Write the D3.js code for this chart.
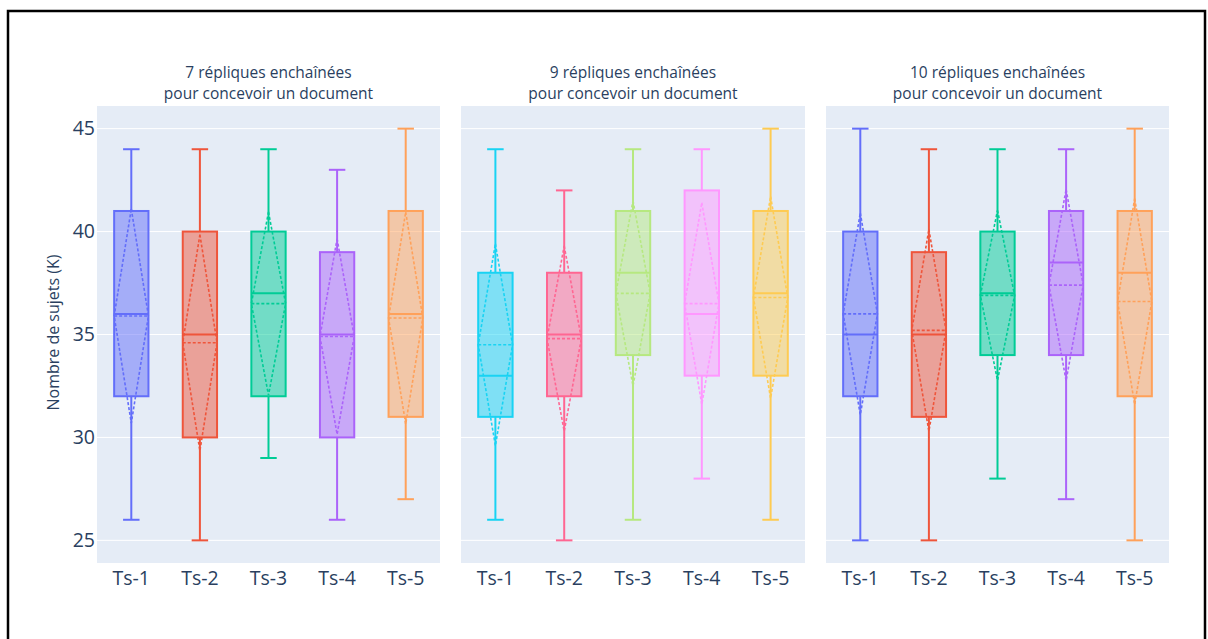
<!DOCTYPE html>
<html>
<head>
<meta charset="utf-8">
<script src="https://cdn.jsdelivr.net/npm/d3@7"></script>
<style>
  html, body { margin: 0; padding: 0; background: #fff; }
  svg { display: block; }
</style>
</head>
<body>
<svg id="chart" width="1208" height="639"></svg>
<script>
// Categories and panel titles
const categories = ["Ts-1", "Ts-2", "Ts-3", "Ts-4", "Ts-5"];
const panelTitles = [
  ["7 répliques enchaînées", "pour concevoir un document"],
  ["9 répliques enchaînées", "pour concevoir un document"],
  ["10 répliques enchaînées", "pour concevoir un document"]
];
const yTicks = [25, 30, 35, 40, 45];

// Box statistics, one row per panel, one value per category
const minima  = [[26, 25, 29, 26, 27], [26, 25, 26, 28, 26], [25, 25, 28, 27, 25]];
const q1s     = [[32, 30, 32, 30, 31], [31, 32, 34, 33, 33], [32, 31, 34, 34, 32]];
const medians = [[36, 35, 37, 35, 36], [33, 35, 38, 36, 37], [35, 35, 37, 38.5, 38]];
const q3s     = [[41, 40, 40, 39, 41], [38, 38, 41, 42, 41], [40, 39, 40, 41, 41]];
const maxima  = [[44, 44, 44, 43, 45], [44, 42, 44, 44, 45], [45, 44, 44, 44, 45]];
const means   = [[35.9, 34.6, 36.5, 34.9, 35.8], [34.5, 34.8, 37.0, 36.5, 36.8], [36.0, 35.2, 36.9, 37.4, 36.6]];
const sds     = [[5.2, 5.25, 4.45, 4.75, 5.15], [4.9, 4.5, 4.5, 4.9, 4.9], [4.9, 4.9, 4.13, 4.65, 5.0]];

const colors = [
  ["#636efa", "#EF553B", "#00cc96", "#ab63fa", "#FFA15A"],
  ["#19d3f3", "#FF6692", "#B6E880", "#FF97FF", "#FECB52"],
  ["#636efa", "#EF553B", "#00cc96", "#ab63fa", "#FFA15A"]
];

const svg = d3.select("#chart");
const font = "'Open Sans', 'Noto Sans', sans-serif";
const textColor = "#2a3f5f";

// Panel layout
const plotTop = 106, plotBottom = 563;
const panelX = [[97, 440], [461, 805], [826, 1169]];

const y = d3.scaleLinear().domain([23.9, 46.1]).range([plotBottom, plotTop]);

// Frame around the figure
svg.append("rect")
  .attr("x", 8).attr("y", 11)
  .attr("width", 1197).attr("height", 640)
  .attr("fill", "none").attr("stroke", "#000").attr("stroke-width", 2.5);

panelX.forEach((px, p) => {
  const x = d3.scaleBand().domain(categories).range(px).paddingInner(0).paddingOuter(0);
  const g = svg.append("g");

  g.append("rect")
    .attr("x", px[0]).attr("y", plotTop)
    .attr("width", px[1] - px[0]).attr("height", plotBottom - plotTop)
    .attr("fill", "#E5ECF6");

  // grid lines
  g.selectAll("line.grid").data(yTicks).enter().append("line")
    .attr("x1", px[0]).attr("x2", px[1])
    .attr("y1", d => y(d)).attr("y2", d => y(d))
    .attr("stroke", "#fff").attr("stroke-width", 1);

  // panel title
  const t = g.append("text")
    .attr("x", (px[0] + px[1]) / 2).attr("y", 78)
    .attr("text-anchor", "middle")
    .attr("font-family", font).attr("font-size", 15.5)
    .attr("fill", textColor);
  panelTitles[p].forEach((line, i) => {
    t.append("tspan").attr("x", (px[0] + px[1]) / 2).attr("dy", i === 0 ? 0 : 21).text(line);
  });

  // x tick labels
  g.selectAll("text.xt").data(categories).enter().append("text")
    .attr("x", d => x(d) + x.bandwidth() / 2).attr("y", 585)
    .attr("text-anchor", "middle")
    .attr("font-family", font).attr("font-size", 19.5)
    .attr("fill", textColor)
    .text(d => d);

  // boxes
  categories.forEach((c, i) => {
    const col = colors[p][i];
    const cx = x(c) + x.bandwidth() / 2;
    const bw = x.bandwidth() * 0.5;
    const cw = bw * 0.48;
    const bx = cx - bw / 2;
    const bg = g.append("g");

    // whiskers
    bg.append("line").attr("x1", cx).attr("x2", cx)
      .attr("y1", y(q3s[p][i])).attr("y2", y(maxima[p][i]))
      .attr("stroke", col).attr("stroke-width", 2);
    bg.append("line").attr("x1", cx).attr("x2", cx)
      .attr("y1", y(q1s[p][i])).attr("y2", y(minima[p][i]))
      .attr("stroke", col).attr("stroke-width", 2);
    [maxima[p][i], minima[p][i]].forEach(v => {
      bg.append("line").attr("x1", cx - cw / 2).attr("x2", cx + cw / 2)
        .attr("y1", y(v)).attr("y2", y(v))
        .attr("stroke", col).attr("stroke-width", 2);
    });

    // box
    bg.append("rect")
      .attr("x", bx).attr("y", y(q3s[p][i]))
      .attr("width", bw).attr("height", y(q1s[p][i]) - y(q3s[p][i]))
      .attr("fill", col).attr("fill-opacity", 0.5)
      .attr("stroke", col).attr("stroke-width", 2);

    // median
    bg.append("line").attr("x1", bx).attr("x2", bx + bw)
      .attr("y1", y(medians[p][i])).attr("y2", y(medians[p][i]))
      .attr("stroke", col).attr("stroke-width", 2);

    // mean line and ±SD diamond
    const m = means[p][i], s = sds[p][i];
    bg.append("line").attr("x1", bx).attr("x2", bx + bw)
      .attr("y1", y(m)).attr("y2", y(m))
      .attr("stroke", col).attr("stroke-width", 1.6)
      .attr("stroke-dasharray", "3,2");
    const dpts = [[cx, y(m + s)], [bx + bw, y(m)], [cx, y(m - s)], [bx, y(m)]];
    bg.append("path")
      .attr("d", d3.line()(dpts) + "Z")
      .attr("fill", "none")
      .attr("stroke", col).attr("stroke-width", 1.6)
      .attr("stroke-dasharray", "3,2");
  });
});

// y axis tick labels (left panel only)
svg.selectAll("text.yt").data(yTicks).enter().append("text")
  .attr("x", 95).attr("y", d => y(d))
  .attr("dy", "0.35em")
  .attr("text-anchor", "end")
  .attr("font-family", font).attr("font-size", 19.5)
  .attr("fill", textColor)
  .text(d => d);

// y axis title
svg.append("text")
  .attr("transform", `translate(59,${(plotTop + plotBottom) / 2 - 2}) rotate(-90)`)
  .attr("text-anchor", "middle")
  .attr("font-family", font).attr("font-size", 16)
  .attr("fill", textColor)
  .text("Nombre de sujets (K)");
</script>
</body>
</html>
